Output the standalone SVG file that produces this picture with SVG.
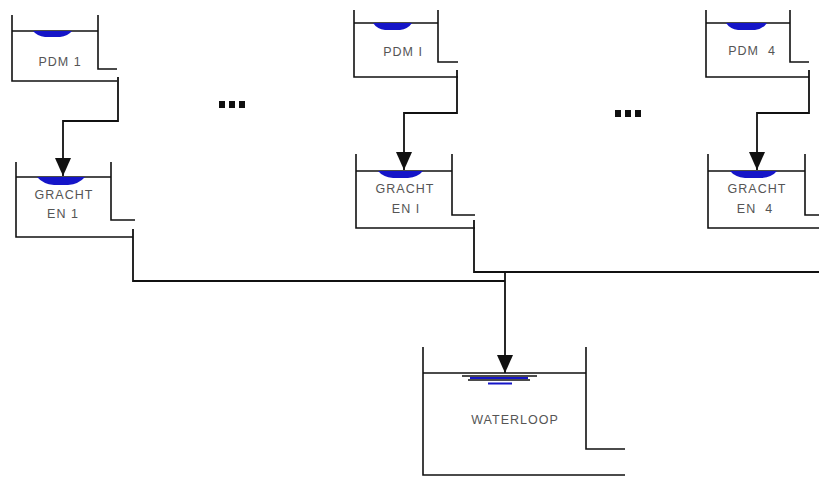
<svg xmlns="http://www.w3.org/2000/svg" width="819" height="479" viewBox="0 0 819 479">
<defs>
<style>
.w{fill:none;stroke:#111;stroke-width:1.6}
.c{fill:none;stroke:#111;stroke-width:1.8}
.water{fill:#1515c8}
.t{font-family:"Liberation Sans",Arial,sans-serif;font-size:12.5px;fill:#555;text-anchor:middle;letter-spacing:1px}
.dots{fill:#111}
</style>
<marker id="ad" viewBox="0 0 16 18" refX="8" refY="18" markerWidth="16" markerHeight="18" markerUnits="userSpaceOnUse" orient="0">
<path d="M0,0 L16,0 L8,18 Z" fill="#111"/>
</marker>
</defs>
<rect width="819" height="479" fill="#fff"/>

<g id="pdm1">
<path class="w" d="M12,15 V81 H117 M12,31 H98 M98,15 V69 H117"/>
<path class="water" d="M33,31 H72 Q68,36 60,37 H45 Q37,36 33,31 Z"/>
<text class="t" x="60" y="66">PDM 1</text>
</g>

<g id="pdmI">
<path class="w" d="M354,10 V77 H458 M354,23 H438 M438,10 V62 H458"/>
<path class="water" d="M373,23 H412 Q408,29 400,30 H385 Q377,29 373,23 Z"/>
<text class="t" x="403" y="56">PDM I</text>
</g>

<g id="pdm4">
<path class="w" d="M706,10 V77 H809 M706,23 H790 M790,10 V62 H809"/>
<path class="water" d="M726,23 H767 Q763,29 755,30 H738 Q730,29 726,23 Z"/>
<text class="t" x="752" y="55" xml:space="preserve">PDM  4</text>
</g>

<g id="grachten1">
<path class="w" d="M16,162 V237 H133 M16,177 H111 M111,162 V220 H135"/>
<path class="water" d="M37,177 H85 Q79,184 68,185 H54 Q43,184 37,177 Z"/>
<text class="t" x="64" y="199" letter-spacing="1.8">GRACHT</text>
<text class="t" x="63" y="218">EN 1</text>
</g>

<g id="grachtenI">
<path class="w" d="M356,154 V228 H475 M356,171 H452 M452,154 V215 H475"/>
<path class="water" d="M378,171 H423 Q418,177 408,178 H393 Q383,177 378,171 Z"/>
<text class="t" x="405" y="193" letter-spacing="1.8">GRACHT</text>
<text class="t" x="406" y="213">EN I</text>
</g>

<g id="grachten4">
<path class="w" d="M708,154 V228 H819 M708,171 H805 M805,154 V215 H819"/>
<path class="water" d="M730,171 H777 Q772,177 762,178 H745 Q735,177 730,171 Z"/>
<text class="t" x="757" y="193" letter-spacing="1.8">GRACHT</text>
<text class="t" x="755" y="213" xml:space="preserve">EN  4</text>
</g>

<g id="waterloop">
<path class="w" d="M423,347 V475 H625 M423,373 H586 M586,347 V449 H625"/>
<path fill="none" stroke="#111" stroke-width="1.5" d="M462,376 H537 M468,380 H530"/>
<path fill="none" stroke="#1515c8" stroke-width="1.8" d="M470,378 H528 M488,383.5 H512"/>
<text class="t" x="515" y="424" letter-spacing="2.2">WATERLOOP</text>
</g>

<g id="ellipsis">
<rect class="dots" x="219" y="101" width="6" height="7"/>
<rect class="dots" x="229" y="101" width="6" height="7"/>
<rect class="dots" x="239" y="101" width="6" height="7"/>
<rect class="dots" x="615" y="110" width="6" height="7"/>
<rect class="dots" x="625" y="110" width="6" height="7"/>
<rect class="dots" x="635" y="110" width="6" height="7"/>
</g>

<g id="connectors">
<path class="c" d="M118,77 V121 H63 V176" marker-end="url(#ad)"/>
<path class="c" d="M457,70 V113 H404 V170" marker-end="url(#ad)"/>
<path class="c" d="M809,70 V113 H757 V170" marker-end="url(#ad)"/>
<path class="c" d="M133,229 V281 H505"/>
<path class="c" d="M474,220 V272 H819"/>
<path class="c" d="M505,272 V373" marker-end="url(#ad)"/>
</g>
</svg>
